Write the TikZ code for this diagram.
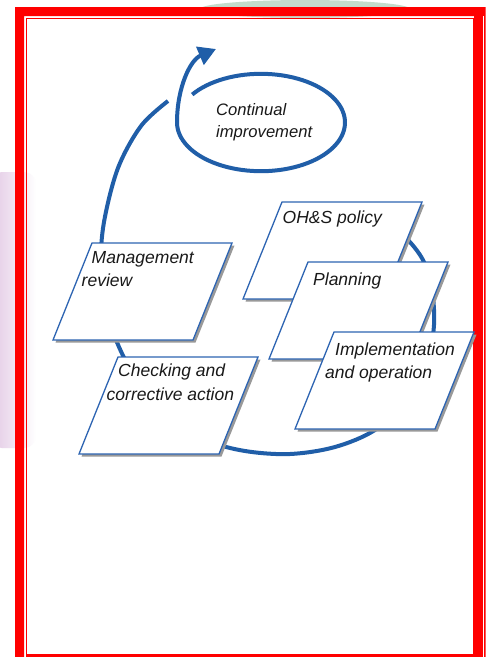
\documentclass[tikz,border=0pt]{standalone}
\usepackage{fontspec}
\setmainfont{Liberation Sans}
\usetikzlibrary{arrows.meta}
\definecolor{cycblue}{RGB}{32,94,168}
\definecolor{boxblue}{RGB}{45,100,178}
\definecolor{framered}{RGB}{255,0,0}
\definecolor{lilac}{RGB}{226,200,228}
\definecolor{mint}{RGB}{196,220,204}
\definecolor{txt}{RGB}{25,25,25}
\newcommand\pgram[2]{%
  \fill[pshadow] (#1+2.5,#2+2.5) -- ++(140,0) -- ++(-39,97) -- ++(-140,0) -- cycle;
  \draw[pbox] (#1,#2) -- ++(140,0) -- ++(-39,97) -- ++(-140,0) -- cycle;}
\begin{document}
\begin{tikzpicture}[x=1pt,y=-1pt,
  cyc/.style={draw=cycblue, line width=4pt},
  pbox/.style={draw=boxblue, line width=1.3pt, fill=white, line join=miter},
  pshadow/.style={fill=black!40},
  lbl/.style={anchor=base west, inner sep=0pt, font=\itshape\fontsize{17.5}{21}\selectfont, text=txt},
  clbl/.style={lbl, font=\itshape\fontsize{16.6}{20}\selectfont}]
\useasboundingbox (0,0) rectangle (489,657);
\clip (0,0) rectangle (489,657);
\fill[white] (0,0) rectangle (489,657);
% background blobs
\fill[mint] (305,9) ellipse [x radius=105, y radius=9];
\shade[left color=lilac, middle color=lilac, right color=white, rounded corners=12] (-10,172) rectangle (36,448);
% frame
\fill[framered, even odd rule] (15,7) rectangle (485.5,690) (24,16) rectangle (474,690);
\draw[framered, line width=1.6pt] (26.6,18.3) rectangle (473.5,655.5);
\fill[framered] (26,654) rectangle (474,660);
\draw[white, line width=0.9pt] (483.8,16) -- (483.8,660);
% big cycle
\draw[cyc] plot[smooth, tension=0.55] coordinates {(168,101) (141,126) (118,168) (104,222) (101,265) (107,310) (119,347) (140,385) (170,418) (205,440) (245,451) (290,454) (335,447) (375,430) (408,400) (427,365) (434,325) (432,290) (424,262) (409,241) (390,225) (372,215)};
% continual improvement loop
\draw[cyc, -{Triangle[length=17.5pt,width=19pt]}] plot[domain=215:540, samples=90, variable=\t] ({261+84*cos(\t)},{122.5+48.7*sin(\t)}) .. controls (177,88) and (190,60) .. (216,49);
\node[clbl] (ci1) at (216,115.5) {Continual};
\node[clbl] (ci2) at (216,137.3) {improvement};
% boxes
\pgram{92}{243}
\node[lbl] (mr1) at (91.5,263) {Management};
\node[lbl] (mr2) at (81.5,286.7) {review};
\pgram{118}{357}
\node[lbl] (ca1) at (118,376.7) {Checking and};
\node[lbl] (ca2) at (106.5,400.5) {corrective action};
\pgram{282}{202}
\node[lbl] (op1) at (282.5,223.3) {OH\&S policy};
\pgram{308}{262}
\node[lbl] (pl1) at (313,285.7) {Planning};
\pgram{334}{332}
\node[lbl] (io1) at (335,355) {Implementation};
\node[lbl] (io2) at (325,378.3) {and operation};
\end{tikzpicture}
\end{document}
